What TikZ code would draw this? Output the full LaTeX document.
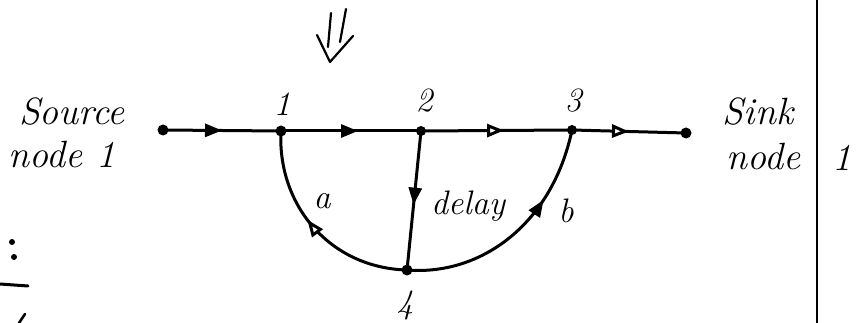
\documentclass[tikz,border=0pt]{standalone}
\usetikzlibrary{arrows.meta,decorations.markings}
\begin{document}
\begin{tikzpicture}[x=1pt,y=-1pt,
  line width=3pt, line cap=round, line join=round,
  dotnode/.style={circle,fill=black,inner sep=0pt,minimum size=11pt},
  lbl/.style={font=\fontsize{34}{38}\selectfont\itshape,inner sep=0pt},
  big/.style={font=\fontsize{38}{42}\selectfont\itshape,inner sep=0pt},
  midfill/.style={postaction={decorate},decoration={markings,
     mark=at position #1 with {\arrow{Triangle[length=17pt,width=13pt]}}}},
  midopen/.style={postaction={decorate},decoration={markings,
     mark=at position #1 with {\arrow{Triangle[open,length=17pt,width=13pt,fill=white]}}}},
  edge/.style={draw, line width=3pt}
]
\useasboundingbox (0,0) rectangle (863,323);

% graph nodes
\node[dotnode] (src) at (163,130) {};
\node[dotnode] (n1) at (281,131) {};
\node[dotnode,minimum size=10pt] (n2) at (421,131) {};
\node[dotnode,minimum size=10pt] (n3) at (572,130) {};
\node[dotnode] (snk) at (686,133) {};
\node[dotnode] (n4) at (407,270) {};

% node labels
\node[lbl] (l1) at (282,104) {1};
\node[lbl] (l2) at (424,101) {2};
\node[lbl] (l3) at (573,101) {3};
\node[lbl] (l4) at (405,305) {4};

% branches
\draw[edge,midfill=0.5] (src.center) -- (n1.center);
\draw[edge,midfill=0.55] (n1.center) -- (n2.center);
\draw[edge,midopen=0.55] (n2.center) -- (n3.center);
\draw[edge,midopen=0.5] (n3.center) -- (snk.center);
\draw[edge,midfill=0.53] (n2.center) -- (n4.center);
\draw[edge,midopen=0.55] (n4.center) .. controls (330,268) and (277,205) .. (n1.center);
\draw[edge,midfill=0.68] (n4.center) .. controls (480,276) and (552,225) .. (n3.center);

% branch labels
\node[lbl] (la) at (322,201) {a};
\node[lbl] (ld) at (468,206) {delay};
\node[lbl] (lb) at (566,211) {b};

% source / sink labels
\node[big] (srct) at (72,112) {Source};
\node[big] (srcn) at (62,155) {node 1};
\node[big] (snkt) at (758,112) {Sink};
\node[big] (snkn) at (764,157) {node};
\node[big] (one) at (842,158) {1};

% double arrow at top
\coordinate (tip) at (330,62);
\draw[line width=2.2pt] (331,13) -- (328,47);
\draw[line width=2.2pt] (346,9) -- (340,42);
\draw[line width=2.2pt] (317,35) -- (tip) -- (353,36);

% vertical rule
\draw[line width=2pt] (817,0) -- (817,323);

% marks at lower left
\fill (12,242) circle (3pt);
\fill (14,257) circle (3pt);
\draw[line width=3pt] (0,284) -- (28,286);
\draw[line width=2.5pt] (19,323) -- (25,314);
\end{tikzpicture}
\end{document}
